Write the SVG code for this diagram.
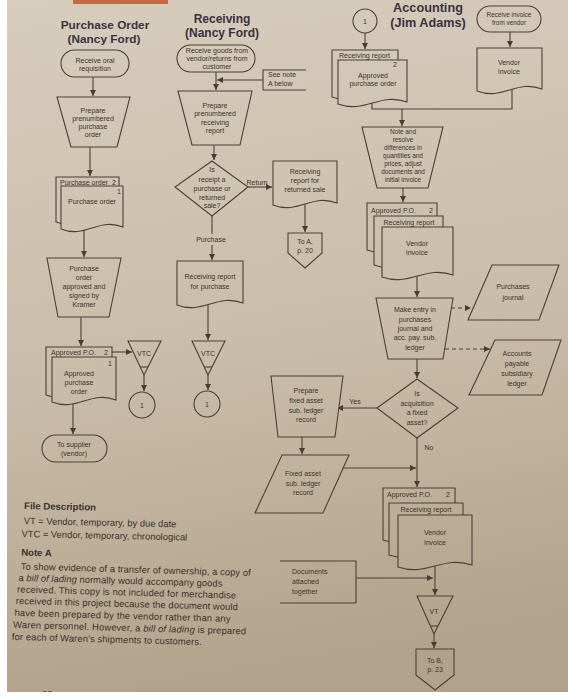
<svg xmlns="http://www.w3.org/2000/svg" width="568" height="700" viewBox="0 0 568 700">
<defs>
<linearGradient id="bg" gradientUnits="userSpaceOnUse" x1="0" y1="0" x2="120" y2="700">
<stop offset="0" stop-color="#d7cdbd"/>
<stop offset="0.55" stop-color="#c9bca8"/>
<stop offset="1" stop-color="#b3a28b"/>
</linearGradient>
<marker id="ah" markerUnits="userSpaceOnUse" markerWidth="7" markerHeight="7" refX="6" refY="3" orient="auto"><path d="M0,0 L6,3 L0,6 Z" fill="#473c33"/></marker>
</defs>
<style>
.s{fill:url(#bg);stroke:#4a4037;stroke-width:1.1}
.c{fill:none;stroke:#4a4037;stroke-width:1.1}
.a{marker-end:url(#ah)}
.d{stroke-dasharray:4 3}
text{font-family:"Liberation Sans",Arial,sans-serif;fill:#3b322b}
.t{font-size:7px;text-anchor:middle}
.ts{font-size:6.4px;text-anchor:middle}
.tl{font-size:7px}
.h{font-weight:bold;text-anchor:middle;fill:#3a3140}
.n{font-size:9.4px}
.nb{font-size:9.6px;font-weight:bold}
</style>
<rect x="0" y="0" width="568" height="700" fill="#ffffff"/>
<rect x="7" y="0" width="561" height="692" fill="url(#bg)"/>
<rect x="73" y="0" width="95" height="4" fill="#c46a45"/>

<g id="titles">
<text class="h" x="105" y="28.5" font-size="11.8">Purchase Order</text>
<text class="h" x="104" y="42.5" font-size="11.8">(Nancy Ford)</text>
<text class="h" x="222" y="22.5" font-size="12">Receiving</text>
<text class="h" x="222" y="36.5" font-size="12">(Nancy Ford)</text>
<text class="h" x="428" y="12" font-size="12.7">Accounting</text>
<text class="h" x="428" y="26.5" font-size="12.7">(Jim Adams)</text>
</g>

<g id="connectors">
<path class="c a" d="M93,77 V96"/>
<path class="c a" d="M90,147 V176"/>
<path class="c a" d="M84,230 V257"/>
<path class="c a" d="M81,317 V346"/>
<path class="c a" d="M112,352 H132"/>
<path class="c a" d="M144,375 V391"/>
<path class="c a" d="M73,404 V434"/>
<path class="c a" d="M216,72 V90"/>
<path class="c a" d="M263,80 H217"/>
<path class="c a" d="M214,145 V160"/>
<path class="c a" d="M248,187 H272"/>
<text class="t" x="257" y="184.5" font-size="6.6">Return</text>
<path class="c" d="M212,216 V234"/>
<text class="t" x="211" y="241.5">Purchase</text>
<path class="c a" d="M212,245 V260"/>
<path class="c a" d="M305,204 V232"/>
<path class="c a" d="M208,304 V340"/>
<path class="c a" d="M208,375 V390"/>
<path class="c a" d="M365,33 V49"/>
<path class="c a" d="M510,32 V47"/>
<path class="c" d="M372,103 V109 H512 V89"/>
<path class="c a" d="M402,109 V126"/>
<path class="c a" d="M403,188 V202"/>
<path class="c a" d="M417,276 V297"/>
<path class="c d a" d="M451,308 H471"/>
<path class="c d a" d="M445,349 H490"/>
<path class="c a" d="M417,359 V378"/>
<path class="c a" d="M377,408 H337"/>
<text class="t" x="355" y="403.5">Yes</text>
<path class="c a" d="M302,437 V454"/>
<path class="c a" d="M343,468 H416"/>
<path class="c a" d="M417,438 V487"/>
<text class="t" x="429" y="450">No</text>
<path class="c a" d="M356,578 H433"/>
<path class="c a" d="M435,566 V595"/>
<path class="c a" d="M434,634 V648"/>
</g>

<g id="n_req">
<rect class="s" x="61" y="50" width="68" height="27" rx="13.5"/>
<text class="t" x="95" y="63">Receive oral</text>
<text class="t" x="95" y="70.5">requisition</text>
</g>
<g id="n_prep_po">
<polygon class="s" points="57,97 130,97 117,147 71,147"/>
<text class="t" x="93" y="112.5">Prepare</text>
<text class="t" x="93" y="120.5">prenumbered</text>
<text class="t" x="93" y="129">purchase</text>
<text class="t" x="93" y="137">order</text>
</g>
<g id="n_po_docs">
<path class="s" d="M56,177 H119 V220 C93.8,210 81.2,232 56,222 Z"/>
<path class="s" d="M61,186 H123 V227 C98.2,217 85.8,239 61,229 Z"/>
<text class="tl" x="60" y="184.5">Purchase order</text>
<text class="tl" x="112" y="184.5">2</text>
<text class="tl" x="117" y="194">1</text>
<text class="t" x="92" y="204">Purchase order</text>
</g>
<g id="n_po_approve">
<polygon class="s" points="47,258 121,258 109,317 58,317"/>
<text class="t" x="84" y="270.6">Purchase</text>
<text class="t" x="84" y="280">order</text>
<text class="t" x="84" y="289">approved and</text>
<text class="t" x="84" y="298">signed by</text>
<text class="t" x="84" y="306.6">Kramer</text>
</g>
<g id="n_apo_docs">
<path class="s" d="M46,347 H112 V393 C85.6,383 72.4,405 46,395 Z"/>
<path class="s" d="M52,357 H116 V400 C90.4,390 77.6,412 52,402 Z"/>
<text class="tl" x="51" y="355">Approved P.O.</text>
<text class="tl" x="104" y="355">2</text>
<text class="tl" x="108" y="365.5">1</text>
<text class="t" x="79" y="375.5">Approved</text>
<text class="t" x="79" y="385">purchase</text>
<text class="t" x="79" y="394">order</text>
</g>
<g id="n_vtc1">
<polygon class="s" points="128,341 161,341 144,375"/>
<line class="c" x1="140.2" y1="367" x2="148" y2="367"/>
<text class="t" x="144" y="356" font-size="7.5">VTC</text>
</g>
<g id="n_c1a">
<circle class="s" cx="142" cy="405" r="13"/>
<text class="t" x="142" y="407.5">1</text>
</g>
<g id="n_vtc2">
<polygon class="s" points="192,341 225,341 208,375"/>
<line class="c" x1="204.2" y1="367" x2="212" y2="367"/>
<text class="t" x="208" y="356" font-size="7.5">VTC</text>
</g>
<g id="n_c1b">
<circle class="s" cx="207" cy="404" r="13"/>
<text class="t" x="207" y="406.5">1</text>
</g>
<g id="n_to_supplier">
<rect class="s" x="42" y="435" width="65" height="27" rx="13.5"/>
<text class="t" x="74" y="446.5">To supplier</text>
<text class="t" x="74" y="455.5">(vendor)</text>
</g>

<g id="n_rcv_start">
<rect class="s" x="177" y="45" width="78" height="27" rx="13.5"/>
<text class="t" x="217" y="52.5">Receive goods from</text>
<text class="t" x="217" y="60.5">vendor/returns from</text>
<text class="t" x="217" y="69">customer</text>
</g>
<g id="n_note_ref">
<path class="c" d="M306,70 H263 V90 H306"/>
<text class="tl" x="268" y="77" font-size="6.2">See note</text>
<text class="tl" x="268" y="85.5" font-size="6.2">A below</text>
</g>
<g id="n_prep_rr">
<polygon class="s" points="178,91 252,91 240,145 192,145"/>
<text class="t" x="215" y="108">Prepare</text>
<text class="t" x="215" y="116.3">prenumbered</text>
<text class="t" x="215" y="124.5">receiving</text>
<text class="t" x="215" y="133">report</text>
</g>
<g id="n_dec_receipt">
<polygon class="s" points="212,161 248,187 212,216 175,187"/>
<text class="t" x="212" y="172.3">Is</text>
<text class="t" x="212" y="181.6">receipt a</text>
<text class="t" x="212" y="190.6">purchase or</text>
<text class="t" x="212" y="199.6">returned</text>
<text class="t" x="212" y="208.3">sale?</text>
</g>
<g id="n_rr_return">
<path class="s" d="M273,161 H337 V203 C311.4,193 298.6,215 273,205 Z"/>
<text class="t" x="305" y="174">Receiving</text>
<text class="t" x="305" y="183">report for</text>
<text class="t" x="305" y="191.5">returned sale</text>
</g>
<g id="n_to_a">
<polygon class="s" points="288,233 322,233 322,253 305,268 288,253"/>
<text class="t" x="305" y="243.5">To A,</text>
<text class="t" x="305" y="252.5">p. 20</text>
</g>
<g id="n_rr_purchase">
<path class="s" d="M177,261 H243 V303 C216.6,293 203.4,315 177,305 Z"/>
<text class="t" x="210" y="279">Receiving report</text>
<text class="t" x="210" y="288.5">for purchase</text>
</g>

<g id="n_c1_acc">
<circle class="s" cx="365" cy="21" r="12"/>
<text class="t" x="365" y="23.5">1</text>
</g>
<g id="n_acc_docs">
<path class="s" d="M332,50 H398 V95 C371.6,85 358.4,107 332,97 Z"/>
<path class="s" d="M338,60 H407 V102 C379.4,92 365.6,114 338,104 Z"/>
<text class="tl" x="339" y="57.5">Receiving report</text>
<text class="tl" x="393" y="67">2</text>
<text class="t" x="373" y="77.5">Approved</text>
<text class="t" x="373" y="86">purchase order</text>
</g>
<g id="n_rcv_invoice">
<rect class="s" x="477" y="6" width="64" height="26" rx="13"/>
<text class="ts" x="509" y="16.5">Receive invoice</text>
<text class="ts" x="509" y="24.5">from vendor</text>
</g>
<g id="n_vendor_invoice">
<path class="s" d="M477,48 H542 V89 C516,79 503,101 477,91 Z"/>
<text class="t" x="509" y="65">Vendor</text>
<text class="t" x="509" y="74">invoice</text>
</g>
<g id="n_resolve">
<polygon class="s" points="362,127 443,127 428,188 377,188"/>
<text class="ts" x="403" y="134">Note and</text>
<text class="ts" x="403" y="142">resolve</text>
<text class="ts" x="403" y="150">differences in</text>
<text class="ts" x="403" y="158">quantities and</text>
<text class="ts" x="403" y="166">prices, adjust</text>
<text class="ts" x="403" y="174">documents and</text>
<text class="ts" x="403" y="182">initial invoice</text>
</g>
<g id="n_docs3">
<path class="s" d="M367,203 H437 V248 C409,238 395,260 367,250 Z"/>
<path class="s" d="M374,216 H443 V263 C415.4,253 401.6,275 374,265 Z"/>
<path class="s" d="M382,227 H453 V275 C424.6,265 410.4,287 382,277 Z"/>
<text class="tl" x="371" y="212.5">Approved P.O.</text>
<text class="tl" x="429" y="212.5">2</text>
<text class="t" x="409" y="224.5">Receiving report</text>
<text class="t" x="417" y="245.5">Vendor</text>
<text class="t" x="417" y="255">invoice</text>
</g>
<g id="n_make_entry">
<polygon class="s" points="376,298 453,298 443,359 388,359"/>
<text class="t" x="415" y="311.5">Make entry in</text>
<text class="t" x="415" y="321.5">purchases</text>
<text class="t" x="415" y="331">journal and</text>
<text class="t" x="415" y="340">acc. pay. sub.</text>
<text class="t" x="415" y="349.5">ledger</text>
</g>
<g id="n_pj">
<polygon class="s" points="492,265 559,265 539,320 468,320"/>
<text class="t" x="513" y="289">Purchases</text>
<text class="t" x="513" y="299.5">journal</text>
</g>
<g id="n_ap">
<polygon class="s" points="495,340 561,340 542,395 469,395"/>
<text class="t" x="517" y="355.5">Accounts</text>
<text class="t" x="517" y="365.5">payable</text>
<text class="t" x="517" y="375.5">subsidiary</text>
<text class="t" x="517" y="385.5">ledger</text>
</g>
<g id="n_dec_fixed">
<polygon class="s" points="417,379 458,408 417,438 377,408"/>
<text class="t" x="417" y="395.5">Is</text>
<text class="t" x="417" y="406">acquisition</text>
<text class="t" x="417" y="415">a fixed</text>
<text class="t" x="417" y="425">asset?</text>
</g>
<g id="n_prep_fa">
<polygon class="s" points="271,376 343,376 335,437 278,437"/>
<text class="t" x="306" y="393">Prepare</text>
<text class="t" x="306" y="403">fixed asset</text>
<text class="t" x="306" y="412.5">sub. ledger</text>
<text class="t" x="306" y="421.5">record</text>
</g>
<g id="n_fa_record">
<polygon class="s" points="282,455 349,455 323,513 255,513"/>
<text class="t" x="303" y="475.5">Fixed asset</text>
<text class="t" x="303" y="485.5">sub. ledger</text>
<text class="t" x="303" y="495">record</text>
</g>
<g id="n_docs4">
<path class="s" d="M383,488 H455 V538 C426.2,528 411.8,550 383,540 Z"/>
<path class="s" d="M389,503 H463 V553 C433.4,543 418.6,565 389,555 Z"/>
<path class="s" d="M398,515 H472 V565 C442.4,555 427.6,577 398,567 Z"/>
<text class="tl" x="387" y="496.5" font-size="7.4">Approved P.O.</text>
<text class="tl" x="446" y="496.5" font-size="7.4">2</text>
<text class="t" x="426" y="512" font-size="7.4">Receiving report</text>
<text class="t" x="435" y="535" font-size="7.4">Vendor</text>
<text class="t" x="435" y="545" font-size="7.4">invoice</text>
</g>
<g id="n_docs_ann">
<path class="c" d="M280,561 H356 V603 H280"/>
<text class="tl" x="292" y="573.5" font-size="7.4">Documents</text>
<text class="tl" x="292" y="583.5" font-size="7.4">attached</text>
<text class="tl" x="292" y="593.5" font-size="7.4">together</text>
</g>
<g id="n_vt">
<polygon class="s" points="417,596 453,596 434,634"/>
<line class="c" x1="430.4" y1="626" x2="438" y2="626"/>
<text class="t" x="434" y="613.5" font-size="7.6">VT</text>
</g>
<g id="n_to_b">
<polygon class="s" points="416,649 454,649 454,675 435,690 416,675"/>
<text class="t" x="435" y="662.5" font-size="7.4">To B,</text>
<text class="t" x="435" y="672" font-size="7.4">p. 23</text>
</g>

<g id="file_description" transform="rotate(1.2 22 510)">
<text class="nb" x="24" y="509">File Description</text>
<text class="n" x="24" y="524">VT = Vendor, temporary, by due date</text>
<text class="n" x="22" y="537">VTC = Vendor, temporary, chronological</text>
</g>
<g id="note_a" transform="rotate(1.6 20 560)">
<text class="nb" x="21" y="555.5">Note A</text>
<text class="n" x="21" y="569.5" textLength="230">To show evidence of a transfer of ownership, a copy of</text>
<text class="n" x="19" y="581" textLength="204">a <tspan font-style="italic">bill of lading</tspan> normally would accompany goods</text>
<text class="n" x="18" y="592.5" textLength="219">received. This copy is not included for merchandise</text>
<text class="n" x="17" y="604" textLength="222">received in this project because the document would</text>
<text class="n" x="16" y="616" textLength="216">have been prepared by the vendor rather than any</text>
<text class="n" x="15" y="628" textLength="233">Waren personnel. However, a <tspan font-style="italic">bill of lading</tspan> is prepared</text>
<text class="n" x="14" y="640" textLength="190">for each of Waren's shipments to customers.</text>
</g>
<text class="n" x="42" y="697">22</text>
<rect x="0" y="692" width="568" height="8" fill="#ffffff"/>
</svg>
